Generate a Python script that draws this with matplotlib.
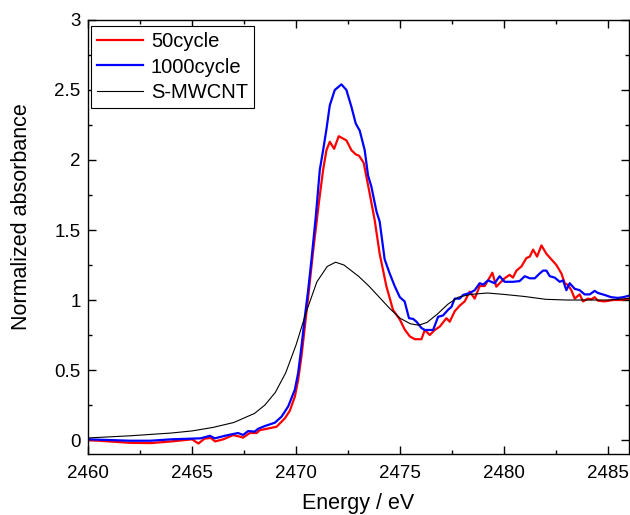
import matplotlib
matplotlib.use("Agg")
import matplotlib.pyplot as plt
from matplotlib.ticker import MultipleLocator

plt.rcParams['font.family'] = ['Liberation Sans', 'DejaVu Sans']

# 50cycle (red)
e_50 = [2460.0, 2461.0, 2462.0, 2463.0, 2464.0, 2465.0, 2465.3, 2465.6, 2465.9, 2466.1,
        2466.5, 2466.97, 2467.3, 2467.45, 2467.77, 2468.1, 2468.25, 2468.58, 2469.06, 2469.46,
        2469.7, 2469.94, 2470.1, 2470.26, 2470.42, 2470.58, 2470.74, 2470.82, 2471.1, 2471.3,
        2471.46, 2471.62, 2471.83, 2472.05, 2472.42, 2472.66, 2472.87, 2473.03, 2473.25, 2473.54,
        2473.78, 2474.02, 2474.34, 2474.66, 2474.99, 2475.22, 2475.47, 2475.71, 2476.03, 2476.19,
        2476.43, 2476.67, 2476.91, 2477.23, 2477.39, 2477.63, 2477.87, 2478.11, 2478.35, 2478.59,
        2478.83, 2479.07, 2479.23, 2479.44, 2479.63, 2479.79, 2480.03, 2480.27, 2480.43, 2480.6,
        2480.84, 2481.08, 2481.24, 2481.4, 2481.59, 2481.8, 2482.04, 2482.28, 2482.52, 2482.76,
        2482.92, 2483.08, 2483.24, 2483.4, 2483.64, 2483.8, 2484.04, 2484.2, 2484.36, 2484.52,
        2484.84, 2485.24, 2485.6, 2486.0]
a_50 = [0.0, -0.01, -0.02, -0.022, -0.01, 0.005, -0.025, 0.01, 0.015, -0.01,
        0.005, 0.035, 0.024, 0.017, 0.05, 0.05, 0.07, 0.08, 0.095, 0.155,
        0.21, 0.31, 0.43, 0.6, 0.81, 1.02, 1.24, 1.35, 1.7, 1.93,
        2.07, 2.13, 2.08, 2.17, 2.14, 2.07, 2.04, 2.03, 1.98, 1.76,
        1.57, 1.33, 1.10, 0.93, 0.86, 0.79, 0.74, 0.72, 0.72, 0.786,
        0.75, 0.786, 0.81, 0.87, 0.845, 0.92, 0.96, 0.99, 1.06, 1.01,
        1.10, 1.10, 1.14, 1.195, 1.095, 1.12, 1.155, 1.18, 1.16, 1.21,
        1.24, 1.30, 1.31, 1.36, 1.31, 1.39, 1.33, 1.29, 1.25, 1.19,
        1.12, 1.107, 1.07, 1.01, 1.04, 0.99, 1.01, 1.005, 1.02, 0.995,
        0.99, 1.0, 1.0, 1.01]

# 1000cycle (blue)
e_1000 = [2460.0, 2461.0, 2462.0, 2463.0, 2464.0, 2465.0, 2465.4, 2465.85, 2466.09, 2466.57,
          2466.97, 2467.21, 2467.45, 2467.69, 2468.01, 2468.17, 2468.5, 2468.98, 2469.3, 2469.62,
          2469.94, 2470.1, 2470.26, 2470.42, 2470.58, 2470.74, 2470.95, 2471.14, 2471.3, 2471.46,
          2471.62, 2471.86, 2472.18, 2472.42, 2472.66, 2472.87, 2473.06, 2473.3, 2473.46, 2473.62,
          2473.87, 2474.02, 2474.26, 2474.5, 2474.74, 2474.99, 2475.22, 2475.43, 2475.63, 2475.79,
          2476.03, 2476.19, 2476.43, 2476.59, 2476.83, 2477.07, 2477.31, 2477.47, 2477.63, 2477.87,
          2478.03, 2478.35, 2478.59, 2478.83, 2479.0, 2479.23, 2479.55, 2479.79, 2480.03, 2480.43,
          2480.75, 2481.0, 2481.24, 2481.48, 2481.72, 2481.88, 2482.04, 2482.2, 2482.44, 2482.68,
          2482.84, 2483.0, 2483.16, 2483.4, 2483.64, 2483.88, 2484.12, 2484.36, 2484.52, 2484.84,
          2485.16, 2485.48, 2485.72, 2486.0]
a_1000 = [0.005, 0.0, -0.005, -0.005, 0.005, 0.01, 0.012, 0.03, 0.012, 0.03,
          0.043, 0.05, 0.036, 0.064, 0.06, 0.08, 0.10, 0.124, 0.167, 0.24,
          0.36, 0.48, 0.67, 0.88, 1.07, 1.29, 1.6, 1.93, 2.07, 2.22,
          2.39, 2.5, 2.54, 2.5, 2.38, 2.26, 2.21, 2.07, 1.89, 1.81,
          1.63, 1.56, 1.29, 1.19, 1.10, 1.02, 0.99, 0.87, 0.865, 0.845,
          0.80, 0.786, 0.786, 0.786, 0.88, 0.89, 0.93, 0.95, 1.01, 1.01,
          1.036, 1.05, 1.07, 1.12, 1.11, 1.14, 1.12, 1.17, 1.13, 1.13,
          1.135, 1.17, 1.155, 1.155, 1.19, 1.21, 1.21, 1.17, 1.16, 1.13,
          1.14, 1.07, 1.12, 1.08, 1.07, 1.04, 1.04, 1.065, 1.05, 1.036,
          1.02, 1.015, 1.02, 1.03]

# S-MWCNT (black)
e_cnt = [2460.0, 2462.0, 2464.0, 2465.0, 2466.0, 2467.0, 2468.0, 2468.5, 2469.0, 2469.5,
         2470.0, 2470.5, 2471.0, 2471.5, 2471.9, 2472.3, 2473.0, 2473.5, 2474.0, 2474.5,
         2475.0, 2475.5, 2475.9, 2476.3, 2476.8, 2477.3, 2477.8, 2478.4, 2479.2, 2480.0,
         2481.0, 2482.0, 2483.0, 2484.0, 2485.0, 2486.0]
a_cnt = [0.015, 0.03, 0.05, 0.065, 0.09, 0.125, 0.19, 0.25, 0.34, 0.48,
         0.68, 0.92, 1.13, 1.24, 1.27, 1.25, 1.17, 1.10, 1.02, 0.94,
         0.87, 0.83, 0.82, 0.84, 0.90, 0.97, 1.02, 1.04, 1.05, 1.04,
         1.025, 1.005, 1.0, 1.0, 1.0, 1.01]

fig = plt.figure(figsize=(6.3, 5.15), dpi=100)
ax = fig.add_axes([0.140, 0.1184, 0.858, 0.8428])

ax.plot(e_50, a_50, color='#ff0000', lw=1.6, label='50cycle')
ax.plot(e_1000, a_1000, color='#0000ff', lw=1.6, label='1000cycle')
ax.plot(e_cnt, a_cnt, color='black', lw=0.8, label='S-MWCNT')

ax.set_xlim(2460, 2486)
ax.set_ylim(-0.1, 3)
ax.xaxis.set_major_locator(MultipleLocator(5))
ax.xaxis.set_minor_locator(MultipleLocator(2.5))
ax.yaxis.set_minor_locator(MultipleLocator(0.25))
ax.set_yticks([0, 0.5, 1, 1.5, 2, 2.5, 3])
ax.set_yticklabels(['0', '0.5', '1', '1.5', '2', '2.5', '3'])
ax.tick_params(which='both', direction='in', top=True, right=True, labelsize=13.5, width=1)
ax.tick_params(which='major', length=5.8)
ax.tick_params(which='minor', length=2.9)
ax.tick_params(axis='x', which='major', pad=8)
ax.tick_params(axis='y', which='major', pad=5.5)
for s in ax.spines.values():
    s.set_linewidth(1)

ax.set_xlabel('Energy / eV', fontsize=15.5, labelpad=8)
ax.set_ylabel('Normalized absorbance', fontsize=15.5)
ax.yaxis.set_label_coords(-0.104, 0.546)

leg = ax.legend(loc='upper left', bbox_to_anchor=(0.006, 0.986), fontsize=14.5, frameon=True,
                fancybox=False, edgecolor='black', framealpha=1, borderaxespad=0,
                handlelength=2.25, handletextpad=0.4, labelspacing=0.32, borderpad=0.3)
leg.get_frame().set_linewidth(0.8)

fig.savefig('out.png', dpi=100)
